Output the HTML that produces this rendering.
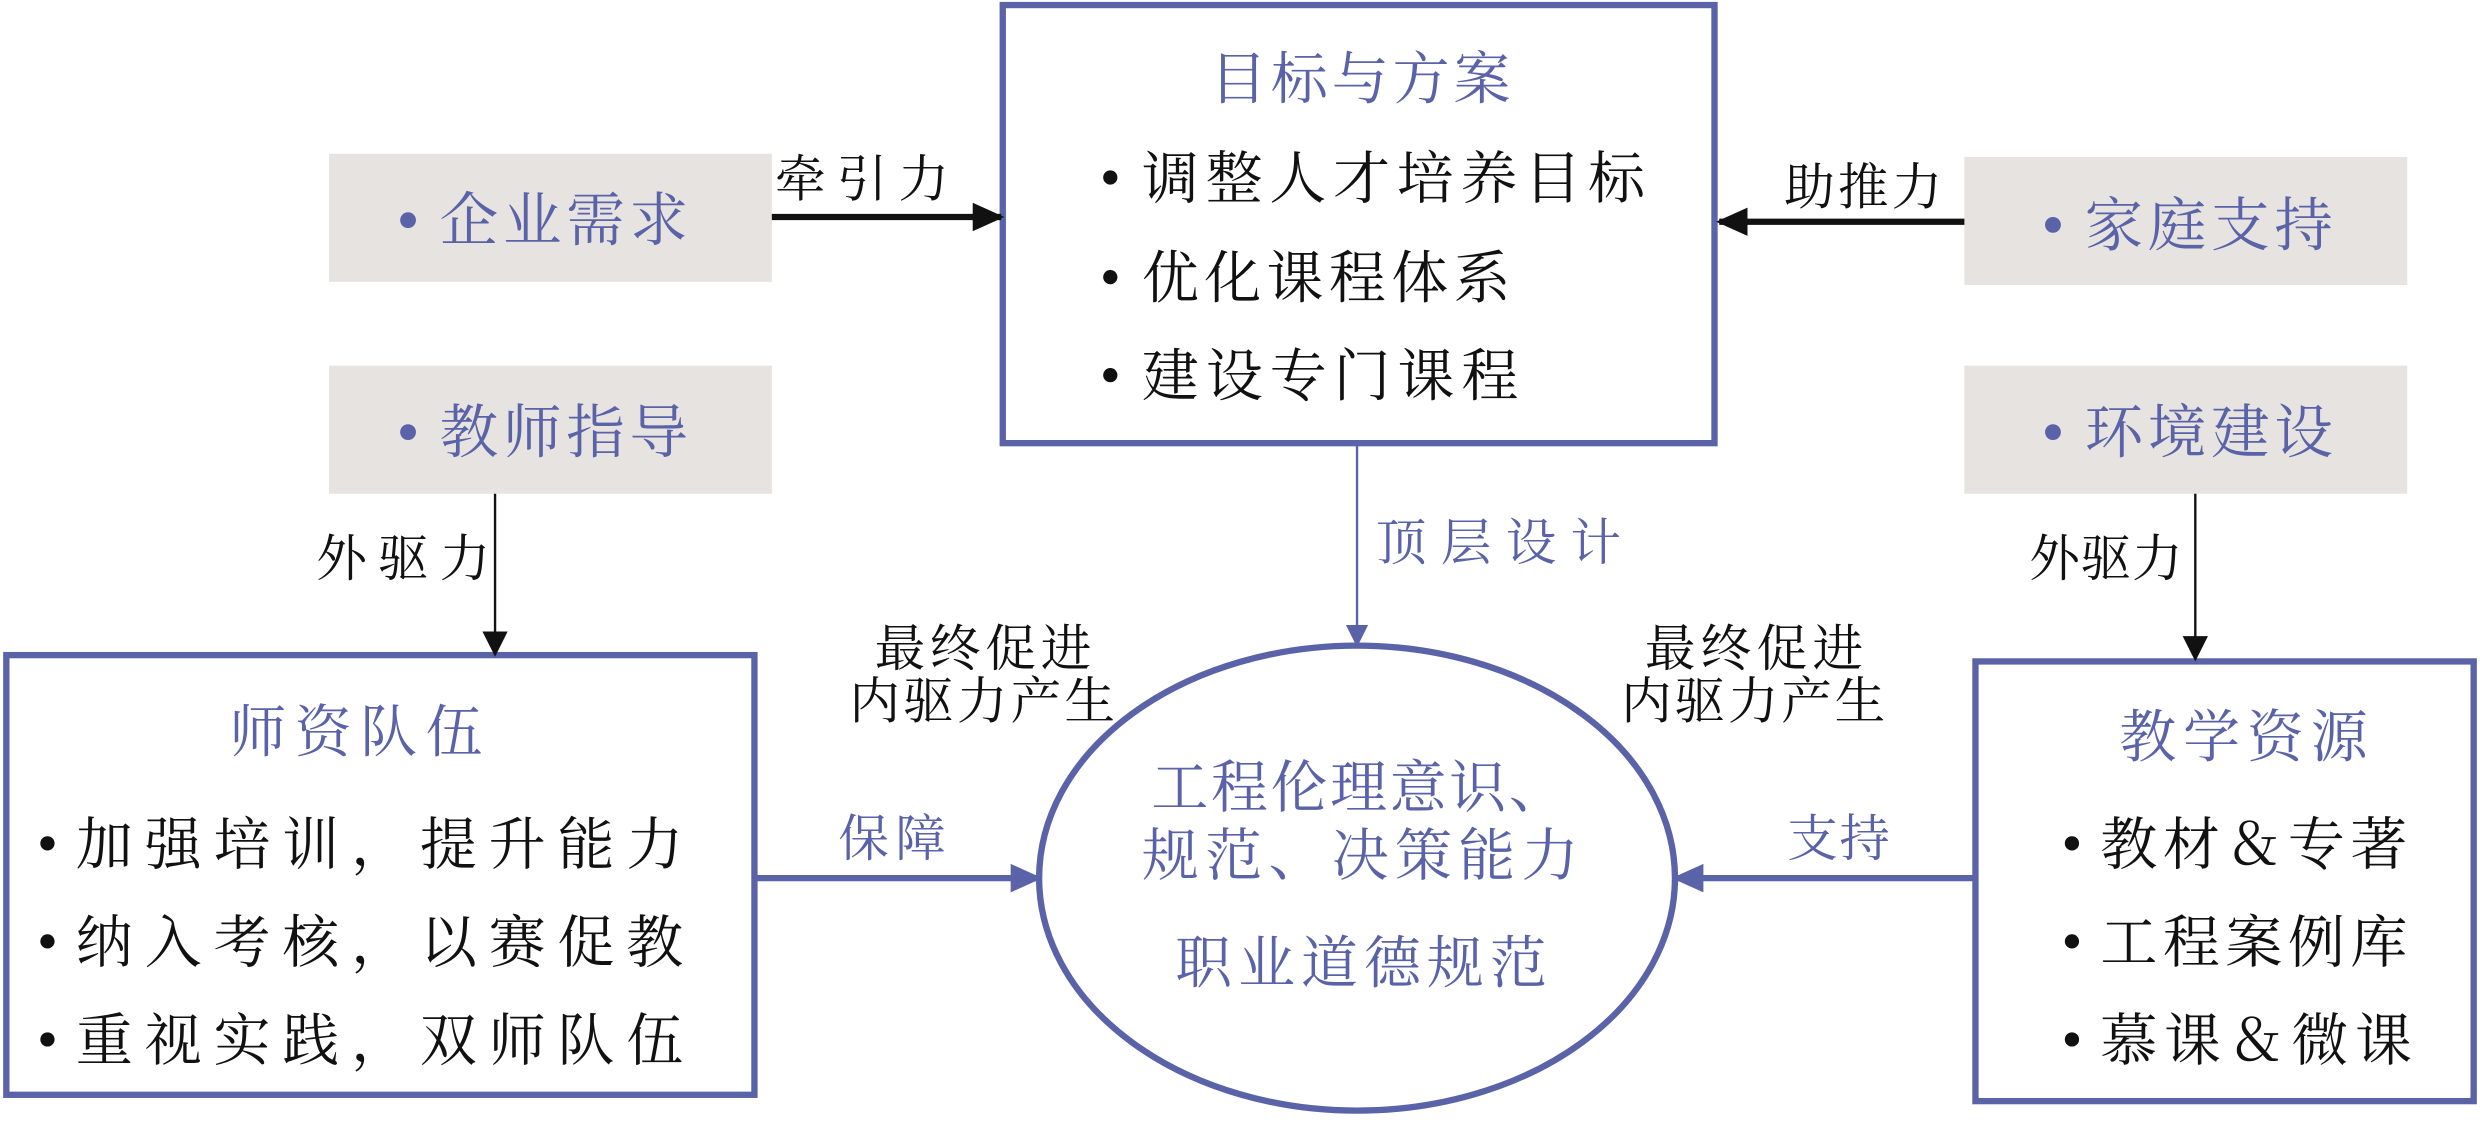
<!DOCTYPE html>
<html><head><meta charset="utf-8"><style>
html,body{margin:0;padding:0;background:#fff;}
svg{display:block;}
text{font-family:"Liberation Serif","Noto Serif CJK SC",serif;}
.b{fill:#5a62a8;}
.k{fill:#111;}
</style></head><body>
<svg width="2480" height="1122" viewBox="0 0 1568 709" xmlns="http://www.w3.org/2000/svg">
<defs>
<marker id="ak" markerWidth="20" markerHeight="18" refX="18" refY="9" orient="auto" markerUnits="userSpaceOnUse" viewBox="0 0 20 18"><path d="M0,0L20,9L0,18z" fill="#111"/></marker>
<marker id="aks" markerWidth="16" markerHeight="16" refX="15" refY="8" orient="auto" markerUnits="userSpaceOnUse" viewBox="0 0 16 16"><path d="M0,0L16,8L0,16z" fill="#111"/></marker>
<marker id="ab" markerWidth="20" markerHeight="18" refX="18" refY="9" orient="auto" markerUnits="userSpaceOnUse" viewBox="0 0 20 18"><path d="M0,0L20,9L0,18z" fill="#5a62a8"/></marker>
<marker id="abs" markerWidth="14" markerHeight="14" refX="13" refY="7" orient="auto" markerUnits="userSpaceOnUse" viewBox="0 0 14 14"><path d="M0,0L14,7L0,14z" fill="#5a62a8"/></marker>
</defs>
<rect x="208" y="97" width="280" height="81" fill="#e6e3e0"/>
<rect x="208" y="231" width="280" height="81" fill="#e6e3e0"/>
<rect x="1242" y="99" width="280" height="81" fill="#e6e3e0"/>
<rect x="1242" y="231" width="280" height="81" fill="#e6e3e0"/>
<g font-size="37" class="b" lengthAdjust="spacing">
<circle cx="258" cy="139" r="5" fill="#5a62a8"/><text x="278" y="152" textLength="157">企业需求</text>
<circle cx="258" cy="273" r="5" fill="#5a62a8"/><text x="278" y="286" textLength="157">教师指导</text>
<circle cx="1298" cy="142" r="5" fill="#5a62a8"/><text x="1318" y="155" textLength="157">家庭支持</text>
<circle cx="1298" cy="273" r="5" fill="#5a62a8"/><text x="1318" y="286" textLength="157">环境建设</text>
</g>
<rect x="634" y="3" width="450" height="277" fill="none" stroke="#5a62a8" stroke-width="4"/>
<text x="765" y="62" font-size="36" textLength="190" class="b">目标与方案</text>
<g font-size="36" class="k">
<circle cx="702" cy="112" r="4.5" fill="#111"/><text x="722" y="125" textLength="318">调整人才培养目标</text>
<circle cx="702" cy="175" r="4.5" fill="#111"/><text x="722" y="188" textLength="233">优化课程体系</text>
<circle cx="702" cy="237" r="4.5" fill="#111"/><text x="722" y="250" textLength="238">建设专门课程</text>
</g>
<rect x="4" y="414" width="473" height="278" fill="none" stroke="#5a62a8" stroke-width="4"/>
<text x="145" y="475" font-size="36" textLength="160" class="b">师资队伍</text>
<g font-size="36" class="k">
<circle cx="30" cy="533" r="4.5" fill="#111"/><text x="48" y="546" textLength="384">加强培训，提升能力</text>
<circle cx="30" cy="595" r="4.5" fill="#111"/><text x="48" y="608" textLength="384">纳入考核，以赛促教</text>
<circle cx="30" cy="657" r="4.5" fill="#111"/><text x="48" y="670" textLength="384">重视实践，双师队伍</text>
</g>
<rect x="1249" y="418" width="315" height="278" fill="none" stroke="#5a62a8" stroke-width="4"/>
<text x="1340" y="478" font-size="36" textLength="157" class="b">教学资源</text>
<g font-size="36" class="k">
<circle cx="1310" cy="533" r="4.5" fill="#111"/><text x="1328" y="546" textLength="194">教材＆专著</text>
<circle cx="1310" cy="595" r="4.5" fill="#111"/><text x="1328" y="608" textLength="194">工程案例库</text>
<circle cx="1310" cy="657" r="4.5" fill="#111"/><text x="1328" y="670" textLength="197">慕课＆微课</text>
</g>
<ellipse cx="858" cy="555" rx="201" ry="147" fill="none" stroke="#5a62a8" stroke-width="4"/>
<g font-size="36" class="b">
<text x="728" y="510" textLength="262">工程伦理意识、</text>
<text x="722" y="553" textLength="276">规范、决策能力</text>
<text x="743" y="621" textLength="235">职业道德规范</text>
</g>
<line x1="488" y1="137" x2="633" y2="137" stroke="#111" stroke-width="4" marker-end="url(#ak)"/>
<text x="490" y="124" font-size="32" textLength="110" class="k">牵引力</text>
<line x1="1242" y1="140" x2="1087" y2="140" stroke="#111" stroke-width="4" marker-end="url(#ak)"/>
<text x="1128" y="129" font-size="32" textLength="100" class="k">助推力</text>
<line x1="313" y1="312" x2="313" y2="414" stroke="#111" stroke-width="1.5" marker-end="url(#aks)"/>
<text x="200" y="364" font-size="32" textLength="110" class="k">外驱力</text>
<line x1="1388" y1="312" x2="1388" y2="417" stroke="#111" stroke-width="1.5" marker-end="url(#aks)"/>
<text x="1283" y="364" font-size="32" textLength="97" class="k">外驱力</text>
<line x1="858" y1="281" x2="858" y2="408" stroke="#5a62a8" stroke-width="1.5" marker-end="url(#abs)"/>
<text x="870" y="354" font-size="32" textLength="155" class="b">顶层设计</text>
<line x1="478" y1="555" x2="657" y2="555" stroke="#5a62a8" stroke-width="4" marker-end="url(#ab)"/>
<text x="530" y="541" font-size="32" textLength="68" class="b">保障</text>
<line x1="1248" y1="555" x2="1059" y2="555" stroke="#5a62a8" stroke-width="4" marker-end="url(#ab)"/>
<text x="1130" y="541" font-size="32" textLength="65" class="b">支持</text>
<g font-size="32" class="k">
<text x="553" y="421" textLength="137">最终促进</text><text x="537" y="454" textLength="168">内驱力产生</text>
<text x="1040" y="421" textLength="138">最终促进</text><text x="1025" y="454" textLength="167">内驱力产生</text>
</g>
</svg>
</body></html>
